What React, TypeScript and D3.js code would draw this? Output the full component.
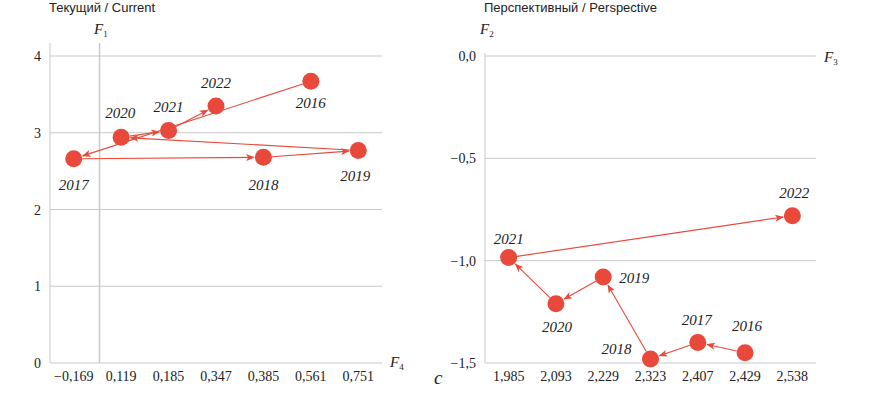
import React from 'react';
import * as d3 from 'd3';

// years in chronological order (arrows go from one year to the next)
const years = ['2016', '2017', '2018', '2019', '2020', '2021', '2022'];

// current: F4 (x, categorical ticks) and F1 (y)
const currentTicks = ['−0,169', '0,119', '0,185', '0,347', '0,385', '0,561', '0,751'];
const currentF4 = ['0,561', '−0,169', '0,385', '0,751', '0,119', '0,185', '0,347'];
const currentF1 = [3.67, 2.66, 2.68, 2.77, 2.94, 3.03, 3.35];
const currentYTicks = [0, 1, 2, 3, 4];

// perspective: F3 (x, categorical ticks) and F2 (y)
const perspTicks = ['1,985', '2,093', '2,229', '2,323', '2,407', '2,429', '2,538'];
const perspF3 = ['2,429', '2,407', '2,323', '2,229', '2,093', '1,985', '2,538'];
const perspF2 = [-1.45, -1.4, -1.48, -1.08, -1.21, -0.985, -0.78];
const perspYTicks = [0, -0.5, -1.0, -1.5];

const RED = '#e8493b';
const GRID = '#c9c9c9';
const SERIF = "'Times New Roman', 'Liberation Serif', Tinos, 'DejaVu Serif', serif";
const SANS = "Arial, 'Liberation Sans', sans-serif";
const R = 8.5;

const fmtY = (v: number) => (v < 0 ? '−' : '') + Math.abs(v).toFixed(1).replace('.', ',');

type Offs = Record<string, [number, number]>;

interface PanelProps {
  id: string;
  title: string;
  ticks: string[];
  xs: string[];
  ys: number[];
  yTicks: number[];
  yDomain: [number, number];
  xRange: [number, number];
  yFmt: (v: number) => string;
  yLabel: string;
  ySub: string;
  xLabel: string;
  xSub: string;
  yLabelPos: [number, number];
  xLabelPos: [number, number];
  axisTop: number;
  labelOffs: Offs;
  zeroLine?: [string, string, number, number];
}

function Panel(p: PanelProps) {
  const x = d3.scalePoint<string>().domain(p.ticks).range(p.xRange).padding(0.5);
  const y = d3.scaleLinear().domain(p.yDomain).range([363, 56]);
  const pts = years.map((yr, i) => ({ yr, cx: x(p.xs[i])!, cy: y(p.ys[i]) }));
  const [x0, x1] = p.xRange;

  let zeroX: number | null = null;
  if (p.zeroLine) {
    const [a, b, va, vb] = p.zeroLine;
    const xa = x(a)!, xb = x(b)!;
    zeroX = xa + ((0 - va) / (vb - va)) * (xb - xa) - 2;
  }

  return (
    <g>
      <text x={x0 - 1} y={12} fontFamily={SANS} fontSize={13} fill="#222">{p.title}</text>
      {/* grid lines */}
      {p.yTicks.map(t => (
        <line key={t} x1={x0} x2={x1} y1={y(t)} y2={y(t)} stroke={GRID} strokeWidth={1} />
      ))}
      <line x1={x0} x2={x0} y1={p.axisTop} y2={y(p.yDomain[0])} stroke={GRID} strokeWidth={1} />
      {zeroX !== null && (
        <line x1={zeroX} x2={zeroX} y1={p.axisTop} y2={y(p.yDomain[0])} stroke={GRID} strokeWidth={1.5} />
      )}
      {/* y tick labels */}
      {p.yTicks.map(t => (
        <text key={t} x={x0 - 9} y={y(t) + 5} textAnchor="end" fontFamily={SERIF} fontSize={14} fill="#222">
          {p.yFmt(t)}
        </text>
      ))}
      {/* x tick labels */}
      {p.ticks.map(t => (
        <text key={t} x={x(t)!} y={381} textAnchor="middle" fontFamily={SERIF} fontSize={14} fill="#222">
          {t}
        </text>
      ))}
      {/* axis names */}
      <text x={p.yLabelPos[0]} y={p.yLabelPos[1]} fontFamily={SERIF} fontSize={15} fontStyle="italic" fill="#222">
        {p.yLabel}
        <tspan fontSize={9} fontStyle="normal" dy={3}>{p.ySub}</tspan>
      </text>
      <text x={p.xLabelPos[0]} y={p.xLabelPos[1]} fontFamily={SERIF} fontSize={15} fontStyle="italic" fill="#222">
        {p.xLabel}
        <tspan fontSize={9} fontStyle="normal" dy={3}>{p.xSub}</tspan>
      </text>
      {/* arrows */}
      {pts.slice(1).map((b, i) => {
        const a = pts[i];
        const dx = b.cx - a.cx, dy = b.cy - a.cy;
        const len = Math.hypot(dx, dy);
        const ux = dx / len, uy = dy / len;
        return (
          <line
            key={b.yr}
            x1={a.cx + ux * R}
            y1={a.cy + uy * R}
            x2={b.cx - ux * (R + 1)}
            y2={b.cy - uy * (R + 1)}
            stroke={RED}
            strokeWidth={1.1}
            markerEnd={`url(#arrow-${p.id})`}
          />
        );
      })}
      {pts.map(d => (
        <circle key={d.yr} cx={d.cx} cy={d.cy} r={R} fill={RED} />
      ))}
      {pts.map(d => {
        const o = p.labelOffs[d.yr];
        return (
          <text key={d.yr} x={d.cx + o[0]} y={d.cy + o[1] + 5} textAnchor="middle" fontFamily={SERIF}
            fontSize={15} fontStyle="italic" fill="#222">
            {d.yr}
          </text>
        );
      })}
    </g>
  );
}

export default function App() {
  const leftOffs: Offs = {
    '2016': [0, 22], '2017': [0, 26], '2018': [0, 28], '2019': [-3, 26],
    '2020': [-1, -24], '2021': [0, -23], '2022': [0, -23],
  };
  const rightOffs: Offs = {
    '2016': [2, -27], '2017': [-1, -23], '2018': [-34, -10], '2019': [31, 1],
    '2020': [1, 23], '2021': [0, -19], '2022': [2, -23],
  };
  return (
    <svg width={870} height={414} style={{ position: 'absolute', left: 0, top: 0, background: '#fff' }}>
      <defs>
        {['l', 'r'].map(id => (
          <marker key={id} id={`arrow-${id}`} viewBox="0 0 10 8" refX={9} refY={4} markerWidth={9}
            markerHeight={7} markerUnits="userSpaceOnUse" orient="auto">
            <path d="M0,0 L10,4 L0,8 L2.5,4 Z" fill={RED} />
          </marker>
        ))}
      </defs>
      <Panel
        id="l"
        title="Текущий / Current"
        ticks={currentTicks}
        xs={currentF4}
        ys={currentF1}
        yTicks={currentYTicks}
        yDomain={[0, 4]}
        xRange={[50, 382]}
        yFmt={v => String(v)}
        yLabel="F"
        ySub="1"
        xLabel="F"
        xSub="4"
        yLabelPos={[94, 34]}
        xLabelPos={[390, 367]}
        axisTop={43}
        labelOffs={leftOffs}
        zeroLine={['−0,169', '0,119', -0.169, 0.119]}
      />
      <Panel
        id="r"
        title="Перспективный / Perspective"
        ticks={perspTicks}
        xs={perspF3}
        ys={perspF2}
        yTicks={perspYTicks}
        yDomain={[-1.5, 0]}
        xRange={[485, 816]}
        yFmt={fmtY}
        yLabel="F"
        ySub="2"
        xLabel="F"
        xSub="3"
        yLabelPos={[480, 34]}
        xLabelPos={[824, 62]}
        axisTop={53}
        labelOffs={rightOffs}
      />
      <text x={434} y={384} fontFamily={SERIF} fontSize={19} fontStyle="italic" fill="#222">c</text>
    </svg>
  );
}
